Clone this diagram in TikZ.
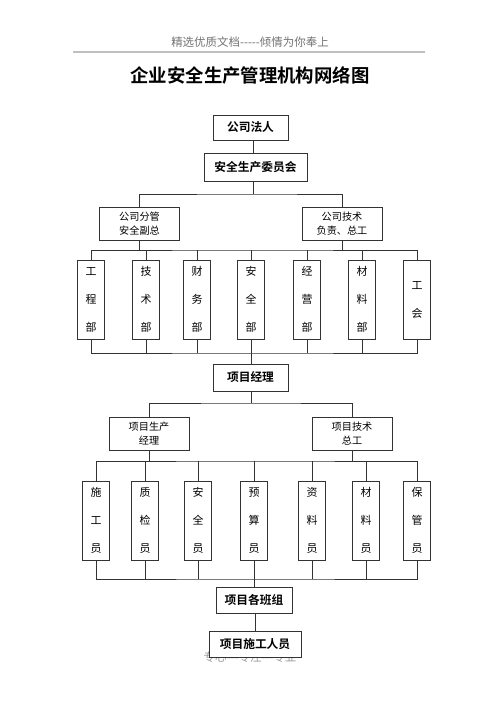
\documentclass[tikz,border=0pt]{standalone}
\usepackage{fontspec}
\newfontfamily\cjk[BoldFont={Noto Sans CJK SC Bold}]{Noto Sans CJK SC}
\usepackage{tikz}

\tikzset{
  box/.style={draw=black!80, line width=0.6pt, fill=white, inner sep=0pt, font=\cjk\bfseries\fontsize{8.8}{10}\selectfont},
  twobox/.style={box, align=center, font=\cjk\fontsize{7.6}{11}\selectfont, minimum width=60pt, minimum height=24.75pt},
  vbox/.style={box, align=center, font=\cjk\fontsize{8.2}{21}\selectfont, minimum width=20.25pt, minimum height=59.25pt},
  link/.style={draw=black!80, line width=0.6pt}
}

\begin{document}
\begin{tikzpicture}[x=0.75pt, y=-0.75pt]
  \useasboundingbox (0,0) rectangle (500,708);

  % header and title
  \node[text=black!55, font=\cjk\fontsize{8.6}{10}\selectfont] (hd) at (250,42) {精选优质文档-----倾情为你奉上};
  \draw[black!25, line width=1.2pt] (73,52) -- (425,52);
  \node[font=\cjk\bfseries\fontsize{13.8}{16}\selectfont] (tt) at (250,75) {企业安全生产管理机构网络图};

  % upper part
  \node[box, minimum width=56.25pt, minimum height=18.75pt] (fr) at (250.5,127.5) {公司法人};
  \node[box, minimum width=77.25pt, minimum height=21pt] (wyh) at (255.5,167) {安全生产委员会};
  \node[twobox] (fz) at (139.5,223.5) {公司分管\\安全副总};
  \node[twobox] (zg) at (342,223.5) {公司技术\\负责、总工};
  \coordinate (b1) at (253,194);
  \draw[link] (fr.south -| b1) -- (wyh.north -| b1);
  \draw[link] (wyh.south -| b1) -- (b1);
  \draw[link] (fz.north) |- (b1) -| (zg.north);

  % departments
  \foreach \n/\x/\t in {d1/91/工\\程\\部, d2/146/技\\术\\部, d3/197/财\\务\\部, d4/251/安\\全\\部,
                        d5/307/经\\营\\部, d6/362/材\\料\\部, d7/417/工\\会}
    \node[vbox] (\n) at (\x,299.5) {\t};
  \coordinate (b2) at (251,250);
  \coordinate (b3) at (251,353);
  \draw[link] (d1.north) |- (b2) -| (d7.north);
  \draw[link] (d1.south) |- (b3) -| (d7.south);
  \foreach \n in {d2,d3,d4,d5,d6}
  {
    \draw[link] (\n.north) -- (\n.north |- b2);
    \draw[link] (\n.south) -- (\n.south |- b3);
  }
  \draw[link] (fz.south) -- (fz.south |- b2);
  \draw[link] (zg.south) -- (zg.south |- b2);

  % project level
  \node[box, minimum width=56.25pt, minimum height=20.25pt] (jl) at (250.5,377.5) {项目经理};
  \draw[link] (b3) -- (b3 |- jl.north);
  \node[twobox] (sc) at (149,433.5) {项目生产\\经理};
  \node[twobox] (js) at (352,433.5) {项目技术\\总工};
  \coordinate (b4) at (251,403);
  \draw[link] (jl.south -| b4) -- (b4);
  \draw[link] (sc.north) |- (b4) -| (js.north);

  % staff
  \foreach \n/\x/\t in {s1/96/施\\工\\员, s2/145/质\\检\\员, s3/198/安\\全\\员, s4/254/预\\算\\员,
                        s5/312/资\\料\\员, s6/366/材\\料\\员, s7/417/保\\管\\员}
    \node[vbox] (\n) at (\x,520.5) {\t};
  \coordinate (b5) at (254,461);
  \coordinate (b6) at (254,579);
  \draw[link] (s1.north) |- (b5) -| (s7.north);
  \draw[link] (s1.south) |- (b6) -| (s7.south);
  \foreach \n in {s2,s3,s4,s5,s6}
  {
    \draw[link] (\n.north) -- (\n.north |- b5);
    \draw[link] (\n.south) -- (\n.south |- b6);
  }
  \draw[link] (sc.south) -- (sc.south |- b5);
  \draw[link] (js.south) -- (js.south |- b5);

  % teams
  \node[box, minimum width=57pt, minimum height=19.5pt] (bz) at (254,600) {项目各班组};
  \draw[link] (b6) -- (bz.north);
  \node[text=black!40, font=\cjk\fontsize{8.6}{10}\selectfont] (ft) at (250,657) {专心---专注---专业};
  \node[box, minimum width=69pt, minimum height=19.5pt] (ry) at (255,644) {项目施工人员};
  \draw[link] (bz.south -| ry) -- (ry.north);
\end{tikzpicture}
\end{document}
